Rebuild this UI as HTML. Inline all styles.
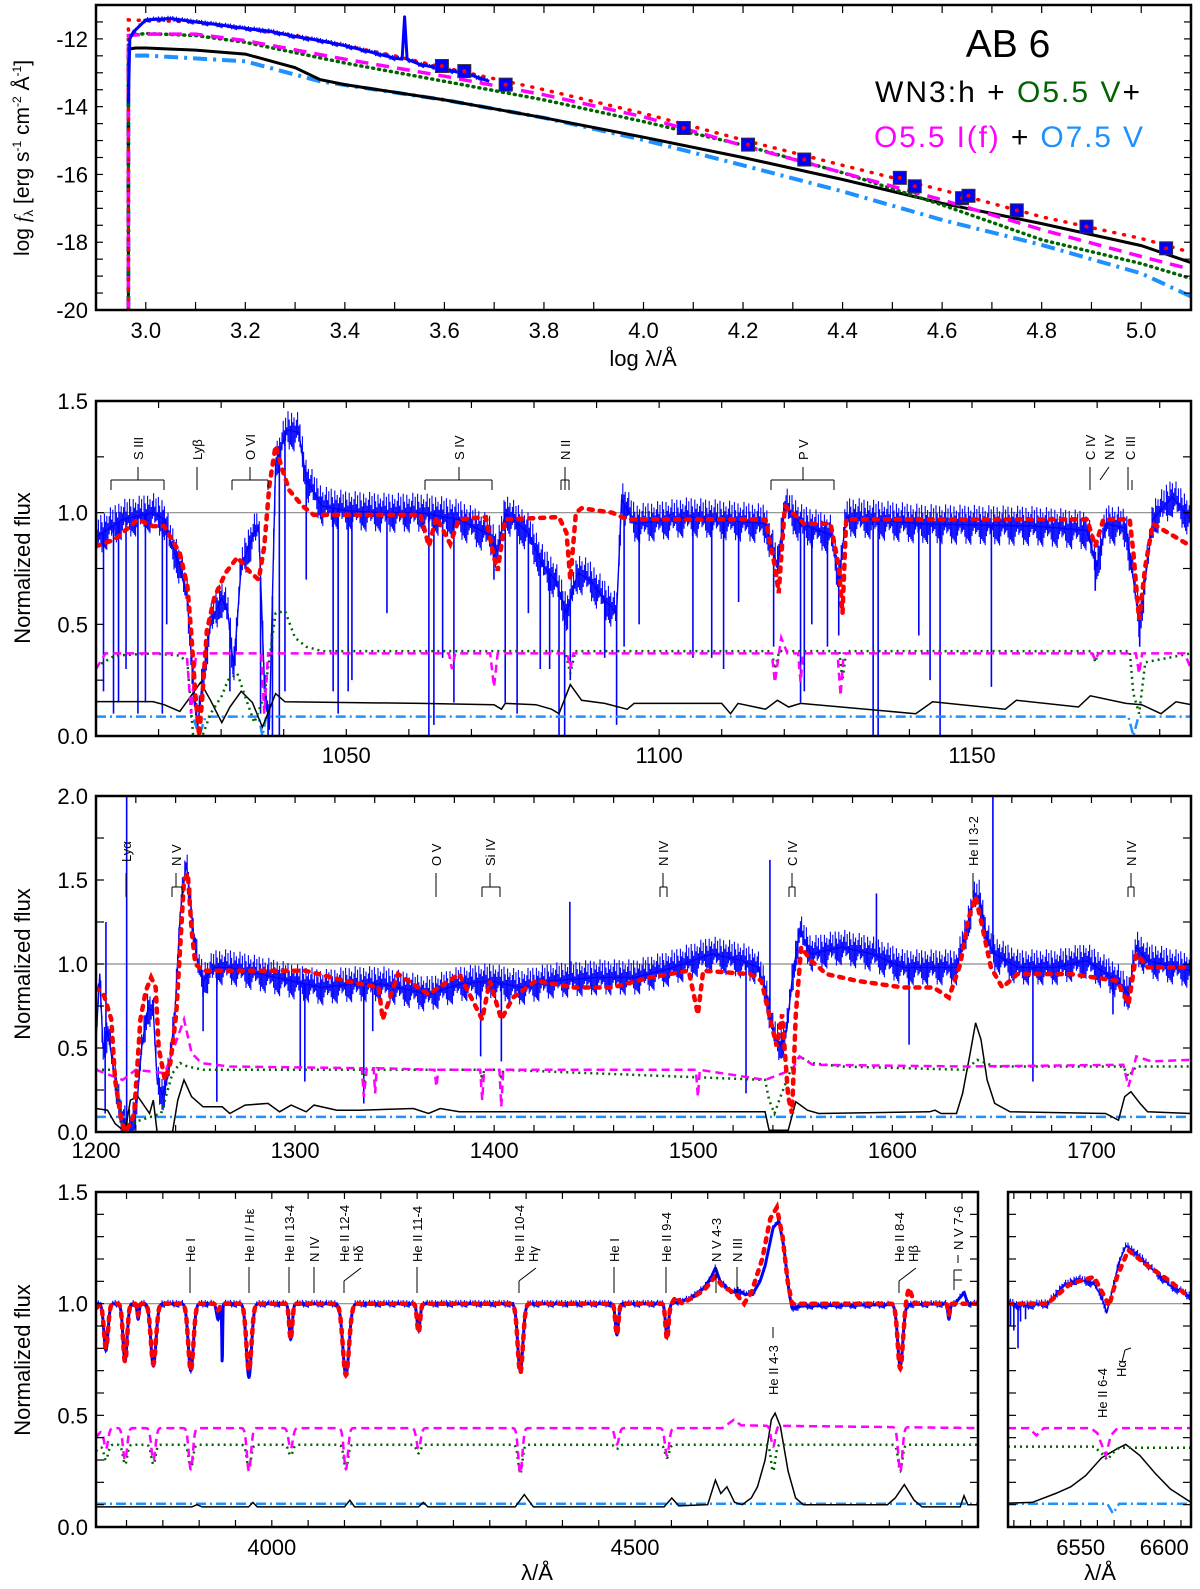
<!DOCTYPE html>
<html><head><meta charset="utf-8"><style>
html,body{margin:0;padding:0;background:#fff;}
svg{display:block;font-family:"Liberation Sans",Arial,sans-serif;}
</style></head><body>
<svg id="fig" width="1200" height="1589" viewBox="0 0 1200 1589" xmlns="http://www.w3.org/2000/svg">
<text x="1008" y="57" font-size="39" text-anchor="middle">AB 6</text>
<text x="875" y="102" font-size="30" textLength="265"><tspan fill="#000">WN3:h + </tspan><tspan fill="#006400">O5.5 V</tspan><tspan fill="#000">+</tspan></text>
<text x="874" y="147" font-size="30" textLength="269"><tspan fill="#ff00ff">O5.5 I(f)</tspan><tspan fill="#000"> + </tspan><tspan fill="#1e90ff">O7.5 V</tspan></text>
</svg>
<script>
// ---------- PANEL 1 DATA (log lambda, log f) ----------
const p1Black=[[2.965,-20],[2.965,-12.3],[2.98,-12.27],[3.0,-12.27],[3.1,-12.33],[3.2,-12.45],[3.3,-12.85],[3.35,-13.2],[3.4,-13.35],[3.6,-13.8],[3.8,-14.33],[4.0,-14.9],[4.2,-15.5],[4.4,-16.15],[4.6,-16.85],[4.8,-17.45],[5.0,-18.1],[5.1,-18.6]];
const p1O75=[[2.965,-20],[2.965,-12.5],[3.0,-12.49],[3.2,-12.66],[3.35,-13.25],[3.6,-13.8],[3.8,-14.33],[4.0,-14.98],[4.2,-15.73],[4.4,-16.5],[4.6,-17.34],[4.8,-18.08],[5.0,-18.92],[5.1,-19.6]];
const p1O55V=[[2.965,-20],[2.965,-11.9],[3.0,-11.84],[3.1,-11.9],[3.2,-12.1],[3.4,-12.71],[3.6,-13.25],[3.8,-13.8],[4.0,-14.44],[4.2,-15.13],[4.4,-15.95],[4.6,-16.9],[4.8,-17.93],[5.0,-18.63],[5.1,-19.07]];
const p1O55I=[[2.965,-20],[2.965,-11.9],[3.0,-11.86],[3.1,-11.86],[3.2,-12.05],[3.4,-12.6],[3.6,-13.1],[3.8,-13.65],[4.0,-14.3],[4.2,-15.15],[4.4,-15.95],[4.6,-16.75],[4.8,-17.63],[5.0,-18.42],[5.1,-18.8]];
const p1Model=[[2.965,-20],[2.965,-11.44],[3.1,-11.5],[3.3,-11.9],[3.5,-12.5],[3.6,-12.85],[3.8,-13.5],[4.0,-14.2],[4.2,-14.98],[4.4,-15.73],[4.6,-16.46],[4.8,-17.25],[5.0,-17.89],[5.1,-18.3]];
const p1Obs=[[2.965,-13.9],[2.968,-12.0],[2.975,-11.8],[3.0,-11.44],[3.05,-11.4],[3.1,-11.5],[3.15,-11.59],[3.2,-11.69],[3.25,-11.78],[3.3,-11.93],[3.35,-12.05],[3.4,-12.2],[3.45,-12.38],[3.5,-12.57],[3.515,-12.6],[3.52,-11.35],[3.525,-12.6],[3.55,-12.75],[3.6,-12.9],[3.65,-13.05],[3.69,-13.25]];
const p1PhotLam=[3.595,3.64,3.723,4.081,4.21,4.323,4.515,4.545,4.64,4.653,4.75,4.89,5.05];
const p1PhotVal=[-12.8,-12.95,-13.35,-14.63,-15.12,-15.56,-16.1,-16.35,-16.7,-16.63,-17.06,-17.54,-18.18];
const p1XTicks=["3.0","3.2","3.4","3.6","3.8","4.0","4.2","4.4","4.6","4.8","5.0"];
const p1YTicks=["-12","-14","-16","-18","-20"];

// ---------- PANEL 2 DATA ----------
const p2Obs=[[1010,0.89],[1014.2,0.97],[1019.1,1.0],[1020.9,0.97],[1021.8,0.88],[1023.4,0.76],[1024.6,0.61],[1025.5,0.25],[1026.2,0.03],[1027,0.25],[1028.3,0.5],[1030.1,0.62],[1031.1,0.55],[1032,0.3],[1033.2,0.76],[1035,0.89],[1036,0.94],[1036.9,0.25],[1037.7,0.03],[1038.7,1.22],[1040.5,1.37],[1042.4,1.36],[1043.6,1.15],[1046.1,1.03],[1049.7,1.01],[1055.8,1.0],[1061.9,1.0],[1068,0.97],[1073,0.9],[1074.2,0.82],[1075.4,1.0],[1079.1,0.91],[1081.5,0.76],[1083.4,0.7],[1085.2,0.55],[1087,0.73],[1088.9,0.7],[1091.3,0.61],[1093.2,0.55],[1094,1.06],[1096.2,0.95],[1104.8,0.98],[1117,0.95],[1118.9,0.76],[1120.1,1.03],[1122.6,0.95],[1127.5,0.9],[1128.7,0.7],[1129.9,0.98],[1141.5,0.95],[1160,0.94],[1168.4,0.92],[1169.9,0.76],[1171.5,0.95],[1174.6,0.93],[1175.8,0.7],[1176.8,0.5],[1177.7,0.7],[1178.9,0.97],[1182,1.07],[1185,0.97]];
const p2SpikeLam=[1011.2,1012.8,1013.6,1014.8,1016.7,1017.9,1020.6,1021.3,1031.4,1036.3,1037.5,1038.2,1039.3,1040.2,1043.6,1047.9,1048.7,1050.3,1050.9,1056.5,1063.2,1064,1065.4,1067.2,1073.6,1075.4,1077.3,1079.1,1081,1082.5,1084,1084.9,1085.8,1091.3,1093.2,1094.4,1096.8,1105.4,1108.4,1110.3,1112.7,1118.3,1122.6,1123.2,1124.4,1126.9,1128.7,1134.2,1135,1141.5,1143.3,1144.9,1153.1,1169.7,1176.8];
const p2SpikeMin=[0.2,0.1,0.15,0.3,0.1,0.15,0.1,0.5,0.2,0.1,0.0,0.0,0.0,0.2,0.7,0.2,0.1,0.2,0.25,0.55,0.0,0.05,0.35,0.15,0.7,0.15,0.1,0.55,0.3,0.3,0.0,0.0,0.25,0.35,0.05,0.4,0.5,0.35,0.35,0.3,0.6,0.4,0.15,0.2,0.5,0.4,0.45,0.0,0.0,0.45,0.25,0.0,0.22,0.65,0.4];
const p2Model=[[1010,0.85],[1013,0.88],[1016.7,0.97],[1019.1,0.94],[1020.9,0.94],[1022.1,0.88],[1023.4,0.82],[1024.6,0.67],[1025.2,0.47],[1025.9,0.18],[1026.5,0.0],[1027,0.18],[1027.7,0.47],[1028.9,0.62],[1030.7,0.73],[1032.6,0.8],[1034.4,0.74],[1036,0.7],[1036.9,0.85],[1037.7,1.12],[1038.7,1.3],[1039.7,1.2],[1040.9,1.1],[1043,1.03],[1044.8,0.99],[1061.9,0.99],[1063.2,0.85],[1064.4,0.98],[1066.6,0.86],[1068,0.97],[1072.3,0.98],[1073.6,0.8],[1074.2,0.74],[1075.4,0.97],[1084,0.98],[1085.2,0.91],[1085.8,0.7],[1086.7,1.0],[1087.6,1.02],[1092.5,1.0],[1094.9,0.97],[1117,0.97],[1118.5,0.76],[1119.1,0.64],[1120.1,1.03],[1123.2,0.95],[1127.4,0.95],[1128.7,0.76],[1129.3,0.55],[1129.9,0.97],[1168.4,0.97],[1169.7,0.85],[1171,0.97],[1175.2,0.97],[1175.8,0.82],[1176.7,0.52],[1177.7,0.76],[1178.9,0.95],[1185,0.85]];
const p2O55V=[[1010,0.31],[1013,0.36],[1019,0.37],[1023.4,0.36],[1024.6,0.33],[1025.5,0.01],[1027,0.0],[1028.3,0.1],[1030.1,0.18],[1031.1,0.25],[1032.6,0.28],[1033.8,0.18],[1035.3,0.06],[1036.9,0.18],[1038.7,0.55],[1040.2,0.56],[1041.8,0.44],[1043.6,0.4],[1046.1,0.38],[1085,0.38],[1085.8,0.28],[1086.6,0.38],[1118,0.38],[1118.5,0.3],[1119.2,0.38],[1128.8,0.38],[1129.3,0.25],[1129.9,0.38],[1169.2,0.38],[1169.7,0.33],[1170.2,0.38],[1175.2,0.38],[1175.8,0.19],[1176.7,0.1],[1177.7,0.33],[1185,0.37]];
const p2O55I=[[1010,0.3],[1011.5,0.37],[1024.5,0.37],[1025.2,0.1],[1026,0.37],[1036.4,0.37],[1036.9,0.1],[1037.5,0.37],[1066.4,0.37],[1066.9,0.3],[1067.4,0.37],[1073,0.37],[1073.6,0.22],[1074.2,0.37],[1085.3,0.37],[1085.8,0.3],[1086.3,0.37],[1118,0.37],[1118.5,0.24],[1119.5,0.44],[1120.5,0.37],[1122.2,0.37],[1122.6,0.24],[1123,0.37],[1128.5,0.37],[1129,0.18],[1129.5,0.37],[1169.2,0.37],[1169.7,0.34],[1170.2,0.37],[1176.2,0.37],[1176.7,0.28],[1177.2,0.37],[1184,0.37],[1185,0.3]];
const p2WN=[[1010,0.154],[1019.1,0.154],[1020.9,0.14],[1023.4,0.11],[1025.2,0.18],[1026.7,0.24],[1028.3,0.16],[1030.1,0.06],[1031.4,0.13],[1033.2,0.2],[1035,0.15],[1036.6,0.04],[1038.7,0.19],[1040.2,0.153],[1061.9,0.146],[1073.6,0.14],[1074.8,0.12],[1075.4,0.146],[1080.3,0.14],[1082.8,0.12],[1084,0.1],[1085.8,0.23],[1087.6,0.16],[1091.3,0.146],[1094.9,0.12],[1096,0.146],[1110,0.146],[1111.4,0.1],[1112.6,0.146],[1117,0.12],[1118.9,0.16],[1120.7,0.13],[1122.6,0.146],[1141,0.1],[1143.7,0.153],[1155.3,0.12],[1157.1,0.16],[1167,0.13],[1168.9,0.18],[1174.6,0.146],[1177.1,0.14],[1180.2,0.1],[1182.6,0.153],[1185,0.14]];
const p2O75=[[1010,0.087],[1025.5,0.087],[1026.5,0.0],[1027.5,0.087],[1036,0.087],[1036.6,0.0],[1037.2,0.087],[1175,0.087],[1175.8,0.0],[1176.6,0.087],[1185,0.087]];

// ---------- PANEL 3 DATA ----------
const p3Obs=[[1200,0.55],[1201.9,0.94],[1203.5,0.5],[1206,0.6],[1209.6,0.31],[1212.7,0.11],[1214.5,0.05],[1217.3,0.03],[1220.4,0.15],[1223,0.51],[1226.1,0.74],[1228.8,0.72],[1230.7,0.31],[1233.4,0.21],[1236.5,0.35],[1239.6,0.7],[1242.3,1.3],[1245.3,1.6],[1247.3,1.4],[1248.8,1.2],[1251.1,1.0],[1253.8,0.9],[1259.5,0.98],[1267.2,0.98],[1282.6,0.94],[1298,0.9],[1313.3,0.86],[1328.7,0.88],[1344,0.88],[1367,0.82],[1382.5,0.88],[1397.8,0.9],[1413.2,0.86],[1428.6,0.9],[1451.6,0.92],[1470.8,0.92],[1490,0.98],[1509.3,1.06],[1524.6,1.02],[1532.3,0.98],[1536.1,0.86],[1540,0.6],[1543.8,0.51],[1546.9,0.6],[1549.6,0.9],[1553.4,1.2],[1559.2,1.06],[1574.6,1.1],[1589.9,1.06],[1605.3,0.98],[1620.7,0.98],[1632.2,0.98],[1636.8,1.18],[1640.7,1.38],[1643.7,1.4],[1647.6,1.14],[1651.4,1.06],[1662.9,0.98],[1682.1,0.98],[1697.5,1.02],[1712.9,0.9],[1718.6,0.82],[1722.5,1.1],[1728.2,1.02],[1750,0.96]];
const p3SpikeLam=[1204.6,1205,1215.4,1253.8,1260.7,1302.6,1304.9,1334.5,1339,1393.2,1403.6,1438,1526.5,1538.5,1592,1608.4,1650.5,1670.6,1710.8];
const p3SpikeVal=[0.11,1.25,2.1,0.6,0.18,0.38,0.3,0.17,0.6,0.45,0.42,1.37,0.23,1.62,1.42,0.52,2.1,0.3,0.7];
const p3Model=[[1200,0.86],[1203.8,0.82],[1207.7,0.67],[1209.6,0.31],[1212.7,0.07],[1214.6,0.0],[1217.3,0.05],[1219.2,0.11],[1222.3,0.67],[1225,0.84],[1227.7,0.92],[1230,0.86],[1231.5,0.5],[1234.6,0.31],[1237.3,0.41],[1240.3,0.7],[1242.3,1.1],[1244.2,1.5],[1246.1,1.54],[1248,1.2],[1249.9,1.0],[1253.8,0.96],[1267,0.96],[1305,0.96],[1325,0.9],[1342,0.86],[1344,0.67],[1351.7,0.94],[1367,0.82],[1382.5,0.94],[1394,0.67],[1397.8,0.9],[1403.6,0.67],[1409.4,0.8],[1420.9,0.9],[1440,0.86],[1459.3,0.86],[1478.5,0.92],[1497.7,0.96],[1502.3,0.7],[1505,0.96],[1528.5,0.94],[1534.2,0.9],[1538.1,0.7],[1541.9,0.51],[1544.6,0.7],[1547.7,0.21],[1549.6,0.11],[1551.5,0.7],[1554.2,1.1],[1559.2,1.02],[1566.9,0.94],[1582.2,0.9],[1605.3,0.86],[1620.7,0.86],[1628.4,0.8],[1634.1,1.0],[1638,1.26],[1641.8,1.4],[1645.6,1.2],[1649.5,0.98],[1655.2,0.86],[1662.9,0.94],[1689.8,0.94],[1712.9,0.9],[1718.6,0.76],[1722.5,1.06],[1728.2,0.98],[1750,0.98]];
const p3O55V=[[1200,0.37],[1209.6,0.37],[1213.4,0.0],[1217,0.05],[1232.7,0.11],[1238.4,0.35],[1242.3,0.41],[1246,0.39],[1253.8,0.37],[1333.5,0.37],[1334.5,0.29],[1335.5,0.37],[1393,0.37],[1394,0.31],[1395,0.37],[1402.6,0.37],[1403.6,0.31],[1404.6,0.37],[1536.1,0.31],[1538.1,0.19],[1540.8,0.11],[1543.8,0.21],[1549.6,0.39],[1553.4,0.45],[1559.2,0.41],[1574.6,0.39],[1636.8,0.37],[1642.6,0.43],[1651.4,0.39],[1716,0.39],[1718.6,0.33],[1722.5,0.39],[1750,0.39]];
const p3O55I=[[1200,0.37],[1213.4,0.31],[1220,0.37],[1234.6,0.35],[1244.2,0.67],[1248,0.47],[1253,0.41],[1267.2,0.39],[1333.5,0.38],[1334.5,0.21],[1336,0.38],[1339.5,0.38],[1340.2,0.23],[1341,0.38],[1370,0.37],[1371,0.27],[1372,0.37],[1393,0.37],[1394,0.19],[1395,0.37],[1402.6,0.37],[1403.6,0.15],[1404.6,0.37],[1501.3,0.37],[1502.3,0.21],[1503.3,0.37],[1536.1,0.31],[1549.6,0.37],[1553.4,0.45],[1560,0.4],[1636.8,0.39],[1716,0.4],[1718.6,0.27],[1722.5,0.45],[1730,0.42],[1750,0.43]];
const p3WN=[[1200,0.14],[1205.8,0.13],[1209.6,0.05],[1214.6,0.0],[1217.3,0.19],[1221.1,0.21],[1226.9,0.11],[1228.8,0.19],[1230.7,0.0],[1238.4,0.0],[1241.1,0.19],[1244.2,0.31],[1248,0.21],[1253.8,0.15],[1263.4,0.15],[1267.2,0.11],[1274.9,0.16],[1286.4,0.17],[1292.2,0.12],[1298,0.16],[1305.6,0.12],[1309.5,0.16],[1321,0.13],[1332.5,0.13],[1359.4,0.14],[1367,0.11],[1372.9,0.14],[1382.5,0.12],[1430,0.12],[1500,0.12],[1536.1,0.12],[1538.1,0.01],[1547.7,0.01],[1551.5,0.18],[1557.3,0.13],[1563,0.11],[1618.7,0.12],[1621.4,0.13],[1624.5,0.11],[1632.2,0.11],[1635.3,0.23],[1639.1,0.47],[1641.8,0.65],[1644.5,0.55],[1647.6,0.31],[1651.4,0.17],[1659.1,0.12],[1707.1,0.11],[1713.6,0.07],[1716.7,0.21],[1719.8,0.24],[1724.4,0.17],[1728.2,0.12],[1750,0.11]];
const p3O75=[[1200,0.09],[1750,0.09]];

// ---------- PANEL 4 DATA ----------
const p4ObsEnv=[[3758,1.0],[4550,1.0],[4574,1.02],[4595,1.07],[4605,1.12],[4610.6,1.16],[4617,1.1],[4624,1.08],[4632,1.05],[4642,1.06],[4652,1.04],[4663,1.05],[4672,1.1],[4679,1.17],[4690,1.34],[4698,1.37],[4705,1.25],[4712,1.05],[4716,0.98],[4730,0.99],[4940,1.0],[4948,1.03],[4953,1.05],[4958,1.0],[4972,1.0]];
const p4LineLam=[3771.7,3798,3816,3837,3888.5,3926,3931.7,3968.5,4026,4102,4202,4342,4475,4544,4865,4932];
const p4ObsMin=[0.79,0.74,0.93,0.72,0.7,0.93,0.73,0.67,0.84,0.68,0.88,0.7,0.86,0.85,0.72,0.93];
const p4LineW=[4,4,2,5,5,3,0.8,5,3,6,3,5,3,3,5,2];
const p4ModelEnv=[[3758,0.98],[3765,1.0],[4550,1.0],[4556,1.03],[4565,1.0],[4595,1.06],[4610,1.12],[4620,1.08],[4640,1.04],[4650,1.0],[4660,1.05],[4675,1.2],[4686,1.38],[4695,1.43],[4703,1.3],[4710,1.1],[4716,1.0],[4870,1.0],[4877,1.07],[4885,1.0],[4972,1.0]];
const p4ModelMin=[0.8,0.74,0.95,0.73,0.7,0.97,1.0,0.7,0.84,0.68,0.87,0.69,0.86,0.84,0.71,0.95];
const p4CompLam=[3771.7,3798,3837,3888.5,3968.5,4026,4102,4202,4342,4475,4544,4690,4865];
const p4O55IEnv=[[3758,0.40],[3768,0.443],[4620,0.443],[4636,0.48],[4646,0.455],[4972,0.443]];
const p4O55IMin=[0.35,0.3,0.3,0.26,0.25,0.35,0.26,0.35,0.24,0.37,0.32,0.36,0.25];
const p4O55VEnv=[[3758,0.34],[3768,0.368],[4972,0.368]];
const p4O55VMin=[0.3,0.28,0.28,0.26,0.26,0.32,0.26,0.33,0.24,0.35,0.31,0.25,0.25];
const p4WN=[[3758,0.09],[3890,0.09],[3897,0.1],[3904,0.09],[3968,0.09],[3974,0.11],[3980,0.09],[4100,0.09],[4107.5,0.12],[4114,0.09],[4202,0.09],[4208.5,0.11],[4215,0.09],[4335,0.09],[4347.5,0.145],[4360,0.09],[4540,0.09],[4550.6,0.13],[4560,0.095],[4600,0.1],[4610.6,0.21],[4618,0.15],[4626.4,0.18],[4637,0.11],[4647.5,0.1],[4660,0.13],[4668.5,0.18],[4679,0.3],[4687.5,0.48],[4692.7,0.51],[4700,0.45],[4710.6,0.25],[4721,0.13],[4731.6,0.1],[4847.5,0.1],[4858,0.13],[4870.6,0.19],[4884,0.12],[4895,0.09],[4947.5,0.09],[4952.7,0.14],[4958,0.1],[4972,0.1]];
const p4O75=[[3758,0.104],[4972,0.104]];
const p4XTicks=[4000,4500];

// ---------- PANEL 5 DATA ----------
const p5Obs=[[6506.5,1.01],[6512,0.99],[6530.4,1.0],[6539.5,1.08],[6548.7,1.11],[6557.9,1.09],[6562.5,1.03],[6565.7,0.96],[6568,1.03],[6572.6,1.18],[6577.1,1.26],[6585.4,1.21],[6594.6,1.14],[6603.7,1.08],[6616,1.03]];
const p5SpikeLam=[6508,6510,6512.5,6514,6517];
const p5SpikeMin=[0.9,0.88,0.8,0.92,0.93];
const p5Model=[[6506.5,1.0],[6530,1.0],[6544,1.09],[6558,1.12],[6565,1.02],[6567,0.99],[6571.7,1.12],[6578.5,1.24],[6590,1.17],[6603.7,1.1],[6613,1.04]];
const p5O55I=[[6506.5,0.443],[6519,0.443],[6523.5,0.41],[6528,0.443],[6556,0.443],[6560,0.42],[6565,0.32],[6568,0.41],[6572,0.443],[6616,0.443]];
const p5O55V=[[6506.5,0.36],[6558,0.36],[6562.5,0.33],[6566,0.30],[6569,0.33],[6573,0.355],[6616,0.355]];
const p5WN=[[6506.5,0.107],[6521,0.11],[6535,0.15],[6544,0.18],[6553,0.23],[6562.5,0.31],[6571.7,0.35],[6577,0.37],[6585.4,0.32],[6594.6,0.24],[6603.7,0.17],[6616,0.11]];
const p5O75=[[6506.5,0.104],[6566,0.104],[6569.3,0.06],[6573,0.104],[6616,0.104]];
const p5XTicks=[6550,6600];

// ---------- RENDERING ----------
const NS="http://www.w3.org/2000/svg";
const svg=document.getElementById('fig');
function el(tag,attrs,parent){const e=document.createElementNS(NS,tag);for(const k in attrs)e.setAttribute(k,attrs[k]);(parent||svg).appendChild(e);return e;}
function scale(d0,d1,r0,r1){return v=>r0+(v-d0)/(d1-d0)*(r1-r0);}
function interp(pts,x){if(x<=pts[0][0])return pts[0][1];for(let i=1;i<pts.length;i++){if(x<=pts[i][0]){const a=pts[i-1],b=pts[i];return a[1]+(b[1]-a[1])*(x-a[0])/(b[0]-a[0]);}}return pts[pts.length-1][1];}
function pathD(pts,X,Y){return pts.map((p,i)=>(i?'L':'M')+X(p[0]).toFixed(1)+','+Y(p[1]).toFixed(1)).join('');}
function profile(env,lam,mins,wid,l0,l1,step){const out=[];for(let l=l0;l<=l1;l+=step){let c=interp(env,l);let f=c;for(let i=0;i<lam.length;i++){const w=wid[i];const d=(l-lam[i])/w;if(Math.abs(d)<4){f-= (c-mins[i])*Math.exp(-d*d);}}out.push([l,f]);}return out;}
function profileOne(env,lam,mins,w,l0,l1,step){return profile(env,lam,mins,lam.map(()=>w),l0,l1,step);}

let clipN=0;
function makePanel(name,x0,x1,y0,y1,xd0,xd1,yd0,yd1){
  const g=el('g',{});
  
  
  const id='clip'+(clipN++);
  const cp=el('clipPath',{id:id},g);el('rect',{x:x0,y:y0,width:x1-x0,height:y1-y0},cp);
  const plot=el('g',{'clip-path':'url(#'+id+')'},g);
  return {g,plot,x0,x1,y0,y1,X:scale(xd0,xd1,x0,x1),Xi:scale(x0,x1,xd0,xd1),Y:scale(yd0,yd1,y1,y0)};
}
function frame(P,name){const r=el('rect',{x:P.x0,y:P.y0,width:P.x1-P.x0,height:P.y1-P.y0,fill:'none',stroke:'#000','stroke-width':2.5},P.g);}
function ticksX(P,start,end,step,len){for(let v=start;v<=end+1e-9;v+=step){const x=P.X(v);if(x<P.x0-0.5||x>P.x1+0.5)continue;el('line',{x1:x,x2:x,y1:P.y1,y2:P.y1-len,stroke:'#000','stroke-width':1.2},P.g);el('line',{x1:x,x2:x,y1:P.y0,y2:P.y0+len,stroke:'#000','stroke-width':1.2},P.g);}}
function ticksY(P,start,end,step,len){for(let v=start;v<=end+1e-9;v+=step){const y=P.Y(v);if(y<P.y0-0.5||y>P.y1+0.5)continue;el('line',{x1:P.x0,x2:P.x0+len,y1:y,y2:y,stroke:'#000','stroke-width':1.2},P.g);el('line',{x1:P.x1,x2:P.x1-len,y1:y,y2:y,stroke:'#000','stroke-width':1.2},P.g);}}
function xLabel(P,v,txt,y){const t=el('text',{x:P.X(v),y:y,'font-size':22,'text-anchor':'middle'},P.g);t.textContent=txt;}
function yLabel(P,v,txt){const t=el('text',{x:P.x0-8,y:P.Y(v)+8,'font-size':22,'text-anchor':'end'},P.g);t.textContent=txt;}
function hline(P,v){el('line',{x1:P.x0,x2:P.x1,y1:P.Y(v),y2:P.Y(v),stroke:'#8a8a8a','stroke-width':1.2},P.plot);}
const STY={
 obs:{stroke:'#0000ff','stroke-width':1.4,fill:'none','stroke-linejoin':'round'},
 model:{stroke:'#ff0000','stroke-width':4.5,fill:'none','stroke-dasharray':'4 7','stroke-linecap':'round'},
 o55i:{stroke:'#ff00ff','stroke-width':2.5,fill:'none','stroke-dasharray':'8 5'},
 o55v:{stroke:'#006400','stroke-width':2.5,fill:'none','stroke-dasharray':'2 4'},
 wn:{stroke:'#000','stroke-width':1.5,fill:'none'},
 o75:{stroke:'#1e90ff','stroke-width':2.5,fill:'none','stroke-dasharray':'10 4 2 4'}
};
function series(P,pts,sty,name,extra){const a=Object.assign({d:pathD(pts,P.X,P.Y)},sty,extra||{});const p=el('path',a,P.plot);return p;}
// visual noise texture (fixed repeating hatch pattern, styling only)
const HATCH=[1,0.35,0.8,0.15,0.95,0.55,0.25,0.9,0.45,0.7,0.3,0.6];
function hatch(P,env,amp,name){let d='';let i=0;for(let x=P.x0;x<=P.x1;x+=1.2,i++){const yc=P.Y(interp(env,P.Xi(x)));const up=amp*HATCH[i%12],dn=amp*HATCH[(i*5+3)%12];d+='M'+x.toFixed(1)+','+(yc-up).toFixed(1)+'V'+(yc+dn).toFixed(1);}
 const p=el('path',{d:d,stroke:'#0000ff','stroke-width':1.1,fill:'none'},P.plot);}
function spikes(P,env,lam,val,color,name){const g=el('g',{},P.plot);for(let i=0;i<lam.length;i++){const x=P.X(lam[i]);el('line',{x1:x,x2:x,y1:P.Y(interp(env,lam[i])),y2:P.Y(val[i]),stroke:color,'stroke-width':1.6},g);}}
function vtext(x,yb,txt,size,name){const t=el('text',{transform:'translate('+x+','+yb+') rotate(-90)','font-size':size||13});t.textContent=txt;return t;}
function ln(x1,y1,x2,y2){el('line',{x1,y1,x2,y2,stroke:'#000','stroke-width':1});}
function bracket(xa,xb,xc,yTop,yMid,yBot){ln(xc,yTop,xc,yMid);ln(xa,yMid,xb,yMid);ln(xa,yMid,xa,yBot);ln(xb,yMid,xb,yBot);}

// ===== PANEL 1 =====
const P1=makePanel('sed-panel',96,1191,5,310,2.9,5.1,-20,-11);
ticksX(P1,2.9,5.1,0.1,8);ticksY(P1,-20,-11,0.5,7);
p1XTicks.forEach(s=>xLabel(P1,parseFloat(s),s,338));
p1YTicks.forEach(s=>yLabel(P1,parseFloat(s),s));
series(P1,p1O75,{stroke:'#1e90ff','stroke-width':4,fill:'none','stroke-dasharray':'14 6 3 6'},'sed-o75v-line');
series(P1,p1Black,{stroke:'#000','stroke-width':3,fill:'none'},'sed-wn3h-line');
series(P1,p1O55V,{stroke:'#006400','stroke-width':3.5,fill:'none','stroke-dasharray':'1 5','stroke-linecap':'round'},'sed-o55v-line');
series(P1,p1O55I,{stroke:'#ff00ff','stroke-width':3.5,fill:'none','stroke-dasharray':'13 8'},'sed-o55i-line');
series(P1,p1Model,{stroke:'#ff0000','stroke-width':3.5,fill:'none','stroke-dasharray':'1 9','stroke-linecap':'round'},'sed-model-line');
hatch(P1,[[2.9,-30],[2.964,-30],[2.966,-12.0]].concat(p1Obs.slice(2)).concat([[3.691,-30],[5.2,-30]]),3,'sed-observed-noise');
series(P1,p1Obs,{stroke:'#0000ff','stroke-width':3,fill:'none','stroke-linejoin':'round'},'sed-observed-spectrum');
for(let i=0;i<p1PhotLam.length;i++){const x=P1.X(p1PhotLam[i]),y=P1.Y(p1PhotVal[i]);
 const r=el('rect',{x:x-6.5,y:y-6.5,width:13,height:13,fill:'#0000ff',stroke:'#333','stroke-width':1},P1.plot);
 
 
 el('circle',{cx:x,cy:y,r:2,fill:'#ff0000'},P1.plot);}
frame(P1,'sed-frame');
{const t=el('text',{x:643,y:366,'font-size':22,'text-anchor':'middle'});t.textContent='log λ/Å';}
{const t=el('text',{transform:'translate(29,158) rotate(-90)','font-size':21,'text-anchor':'middle'});
 
 
 t.innerHTML='log <tspan font-style="italic" font-family="Liberation Serif">f</tspan><tspan font-size="13" dy="4">λ</tspan><tspan dy="-4"> [erg s</tspan><tspan font-size="12" dy="-8">-1</tspan><tspan dy="8">  cm</tspan><tspan font-size="12" dy="-8">-2</tspan><tspan dy="8">  Å</tspan><tspan font-size="12" dy="-8">-1</tspan><tspan dy="8">]</tspan>';}

// ===== PANEL 2 =====
const P2=makePanel('far-uv-panel',96,1191,401,736,1010,1185,0,1.5);
ticksX(P2,1010,1185,10,7);ticksY(P2,0,1.5,0.25,8);
[1050,1100,1150].forEach(v=>xLabel(P2,v,String(v),763));
[0,0.5,1.0,1.5].forEach(v=>yLabel(P2,v,v.toFixed(1)));
hline(P2,1.0);
hatch(P2,p2Obs,20,'far-uv-noise');
series(P2,p2Obs,STY.obs,'far-uv-observed');
spikes(P2,p2Obs,p2SpikeLam,p2SpikeMin,'#0000ff','far-uv-absorption-lines');
series(P2,p2O75,STY.o75,'far-uv-o75v');
series(P2,p2WN,STY.wn,'far-uv-wn3h');
series(P2,p2O55V,STY.o55v,'far-uv-o55v');
series(P2,p2O55I,STY.o55i,'far-uv-o55i');
series(P2,p2Model,STY.model,'far-uv-model');
frame(P2,'far-uv-frame');
vtext(143,460,'S III',13,'label-s3');bracket(111,164,138,467,480,490);
vtext(202,460,'Lyβ',13,'label-lyb');ln(197,467,197,490);
vtext(255,460,'O VI',13,'label-o6');bracket(232,268,250,467,480,490);
vtext(464,460,'S IV',13,'label-s4');bracket(425,492,459,467,480,490);
vtext(570,460,'N II',13,'label-n2');ln(565,467,565,480);ln(561,480,569,480);ln(561,480,561,490);ln(565,480,565,490);ln(569,480,569,490);
vtext(808,460,'P V',13,'label-p5');bracket(771,834,803,467,480,490);
vtext(1095,460,'C IV',13,'label-c4');ln(1090,467,1090,490);
vtext(1114,460,'N IV',13,'label-n4');ln(1109,467,1100,480);
vtext(1135,460,'C III',13,'label-c3');ln(1128,467,1128,490);ln(1132,480,1132,490);

// ===== PANEL 3 =====
const P3=makePanel('uv-panel',96,1191,796,1132,1200,1750,0,2.0);
ticksX(P3,1200,1750,20,7);ticksY(P3,0,2.0,0.25,8);
[1200,1300,1400,1500,1600,1700].forEach(v=>xLabel(P3,v,String(v),1158));
[0,0.5,1.0,1.5,2.0].forEach(v=>yLabel(P3,v,v.toFixed(1)));
hline(P3,1.0);
hatch(P3,p3Obs,18,'uv-noise');
series(P3,p3Obs,STY.obs,'uv-observed');
spikes(P3,p3Obs,p3SpikeLam,p3SpikeVal,'#0000ff','uv-spectral-spikes');
series(P3,p3O75,STY.o75,'uv-o75v');
series(P3,p3WN,STY.wn,'uv-wn3h');
series(P3,p3O55V,STY.o55v,'uv-o55v');
series(P3,p3O55I,STY.o55i,'uv-o55i');
series(P3,p3Model,STY.model,'uv-model');
frame(P3,'uv-frame');
vtext(131,862,'Lyα',13,'label-lya');ln(126,873,126,897);
vtext(181,866,'N V',13,'label-n5');bracket(172,182,176,873,887,897);
vtext(441,866,'O V',13,'label-o5');ln(436,873,436,897);
vtext(495,866,'Si IV',13,'label-si4');bracket(482,500,490,873,887,897);
vtext(668,866,'N IV',13,'label-n4-uv');bracket(660,667,663,873,887,897);
vtext(797,866,'C IV',13,'label-c4-uv');bracket(789,795,792,873,887,897);
vtext(978,866,'He II 3-2',13,'label-he2-32');ln(973,873,973,897);
vtext(1136,866,'N IV',13,'label-n4-1718');bracket(1128,1134,1131,873,887,897);

// ===== PANEL 4 =====
const P4=makePanel('optical-panel',96,978,1192,1527,3758,4972,0,1.5);
ticksX(P4,3800,4950,50,7);ticksY(P4,0,1.5,0.1,8);
p4XTicks.forEach(v=>xLabel(P4,v,String(v),1555));
[0,0.5,1.0,1.5].forEach(v=>yLabel(P4,v,v.toFixed(1)));
hline(P4,1.0);
const p4ObsCurve=profile(p4ObsEnv,p4LineLam,p4ObsMin,p4LineW,3758,4972,0.5);
hatch(P4,p4ObsCurve,4,'optical-noise');
series(P4,p4ObsCurve,{stroke:'#0000ff','stroke-width':3,fill:'none','stroke-linejoin':'round'},'optical-observed');
series(P4,p4O75,STY.o75,'optical-o75v');
series(P4,p4WN,STY.wn,'optical-wn3h');
series(P4,profileOne(p4O55VEnv,p4CompLam,p4O55VMin,4,3758,4972,0.5),STY.o55v,'optical-o55v');
series(P4,profileOne(p4O55IEnv,p4CompLam,p4O55IMin,4,3758,4972,0.5),STY.o55i,'optical-o55i');
series(P4,profile(p4ModelEnv,p4LineLam,p4ModelMin,p4LineW,3758,4972,0.5),STY.model,'optical-model');
frame(P4,'optical-frame');
function lab4(x,txt,name){vtext(x+5,1262,txt,13,name);ln(x,1267,x,1293);}
function lab4d(x,t1,t2,name){vtext(x+5,1262,t1,13,name);vtext(x+19,1262,t2,13,name+'-h');ln(x,1293,x,1281);ln(x,1281,x+17,1268);}
lab4(190,'He I','label-hei-4026');
lab4(249,'He II / Hε','label-he2-heps');
lab4(289,'He II 13-4','label-he2-134');
lab4(314,'N IV','label-n4-opt');
lab4d(344,'He II 12-4','Hδ','label-he2-124');
lab4(417,'He II 11-4','label-he2-114');
lab4d(519,'He II 10-4','Hγ','label-he2-104');
lab4(614,'He I','label-hei-4471');
lab4(666,'He II 9-4','label-he2-94');
vtext(721,1262,'N V 4-3',13,'label-n5-43');ln(716,1267,716,1293);
vtext(742,1262,'N III',13,'label-n3');ln(737,1267,737,1293);
vtext(778,1395,'He II 4-3',13,'label-he2-43');ln(773,1327,773,1338);
lab4d(899,'He II 8-4','Hβ','label-he2-84');
vtext(963,1250,'N V 7-6',13,'label-n5-76');ln(958,1255,958,1263);ln(954,1270,962,1270);ln(954,1280,962,1280);ln(954,1270,954,1290);
{const t=el('text',{x:537,y:1580,'font-size':22,'text-anchor':'middle'});t.textContent='λ/Å';}

// ===== PANEL 5 =====
const P5=makePanel('halpha-panel',1008,1191,1192,1527,6506.5,6616,0,1.5);
ticksX(P5,6510,6610,10,7);ticksY(P5,0,1.5,0.1,8);
p5XTicks.forEach(v=>xLabel(P5,v,String(v),1555));
hline(P5,1.0);
hatch(P5,p5Obs,5,'halpha-noise');
series(P5,p5Obs,STY.obs,'halpha-observed');
spikes(P5,p5Obs,p5SpikeLam,p5SpikeMin,'#0000ff','halpha-spikes');
series(P5,p5O75,STY.o75,'halpha-o75v');
series(P5,p5WN,STY.wn,'halpha-wn3h');
series(P5,p5O55V,STY.o55v,'halpha-o55v');
series(P5,p5O55I,STY.o55i,'halpha-o55i');
series(P5,p5Model,STY.model,'halpha-model');
frame(P5,'halpha-frame');
vtext(1107,1418,'He II 6-4',13,'label-he2-64');
vtext(1126,1377,'Hα',13,'label-halpha');
ln(1122,1362,1125,1350);ln(1125,1350,1131,1348);
{const t=el('text',{x:1100,y:1580,'font-size':22,'text-anchor':'middle'});t.textContent='λ/Å';}

// y-axis titles
[[568,'far-uv-y-axis-title'],[964,'uv-y-axis-title'],[1360,'optical-y-axis-title']].forEach(([y,n])=>{
 const t=el('text',{transform:'translate(30,'+y+') rotate(-90)','font-size':22,'text-anchor':'middle'});
 t.textContent='Normalized flux';
 
 
});
</script>
</body></html>
